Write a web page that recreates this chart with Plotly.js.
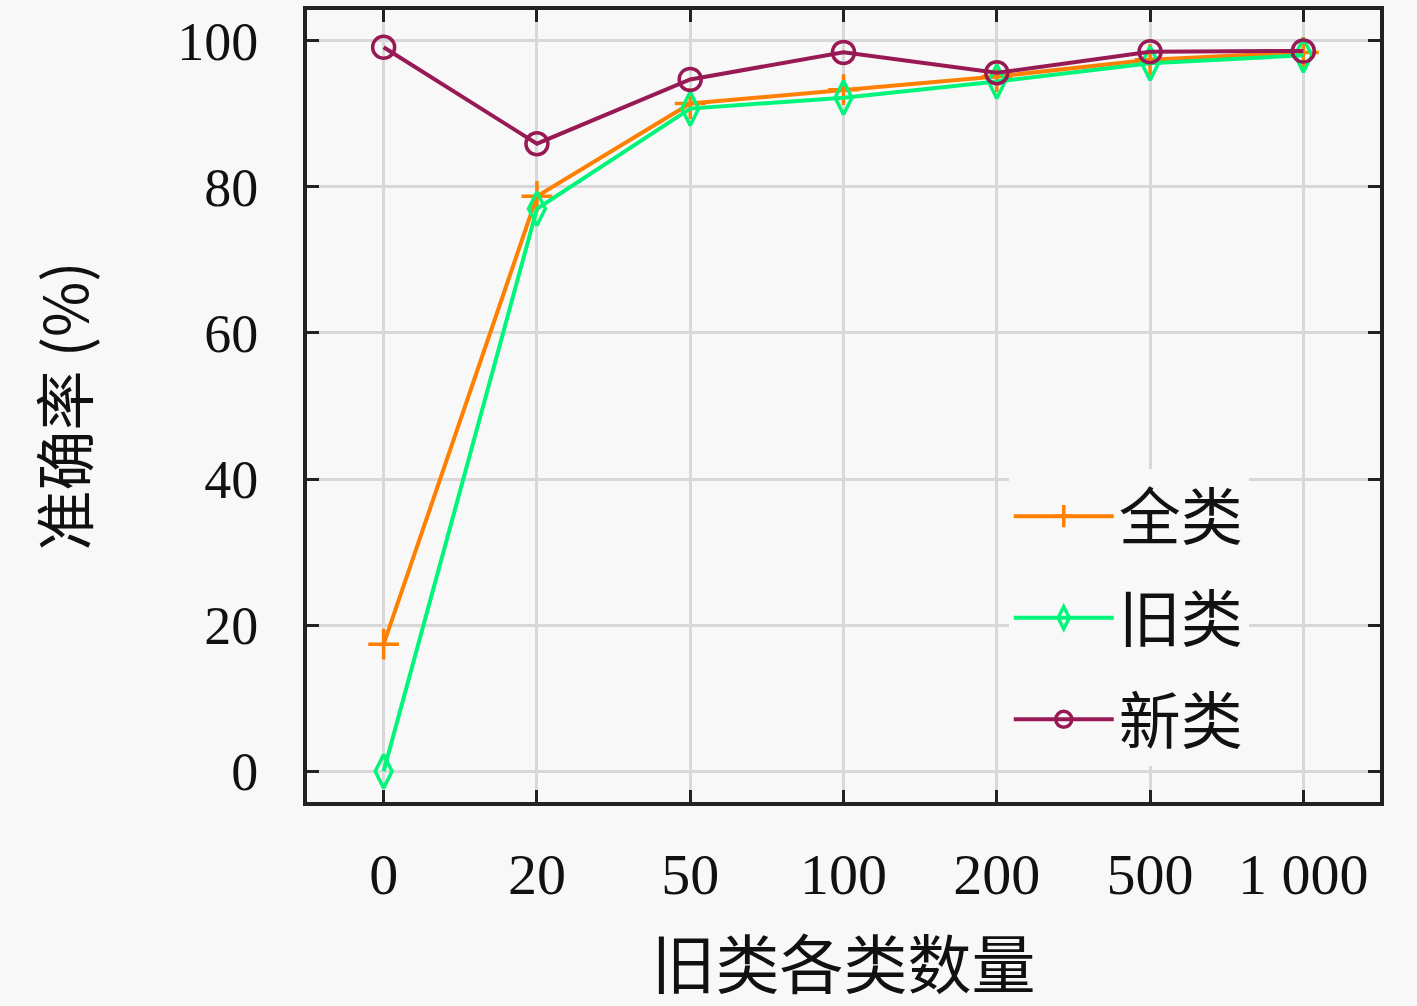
<!DOCTYPE html>
<html>
<head>
<meta charset="utf-8">
<script src="https://cdn.plot.ly/plotly-3.0.1.min.js"></script>
<style>
  body { margin: 0; background: #f8f8f8; }
  #chart { width: 1417px; height: 1006px; }
</style>
</head>
<body>
<div id="chart"></div>
<script>
// old-class sample counts (x categories)
let counts = ["0", "20", "50", "100", "200", "500", "1 000"];
let seriesNames = ["全类", "旧类", "新类"];

// accuracy (%)
let accAll = [17.4, 78.7, 91.4, 93.3, 95.1, 97.4, 98.4];
let accOld = [0.0, 77.0, 90.7, 92.2, 94.4, 96.9, 98.0];
let accNew = [99.1, 85.9, 94.7, 98.4, 95.6, 98.5, 98.6];

let yTicks = [0, 20, 40, 60, 80, 100];

let serif = "Liberation Serif, Noto Sans CJK SC, serif";
let cjk = "Noto Sans CJK SC, Liberation Serif, serif";

function makeTrace(name, values, color, symbol, size) {
    return {
        x: counts,
        y: values,
        name: name,
        legendgroup: name,
        type: "scatter",
        mode: "lines+markers",
        line: { color: color, width: 4 },
        marker: { symbol: symbol, size: size, color: color, line: { color: color, width: 3.5 } }
    };
}

let traces = [
    makeTrace(seriesNames[0], accAll, "#ff8000", "cross-thin-open", 22),
    makeTrace(seriesNames[1], accOld, "#00f57a", "diamond-tall-open", 24),
    makeTrace(seriesNames[2], accNew, "#981a55", "circle-open", 22)
];

let axisCommon = {
    showline: true,
    linecolor: "#222",
    linewidth: 4,
    mirror: "ticks",
    ticks: "inside",
    ticklen: 12,
    tickwidth: 3,
    tickcolor: "#222",
    showgrid: true,
    gridcolor: "#d8d8d8",
    gridwidth: 3,
    zeroline: false
};

let layout = {
    width: 1417,
    height: 1006,
    margin: { l: 307, r: 37, t: 10, b: 204 },
    paper_bgcolor: "#f8f8f8",
    plot_bgcolor: "#f8f8f8",
    font: { family: serif, color: "#111" },
    showlegend: true,
    legend: {
        x: 0.654, y: 0.42,
        xanchor: "left", yanchor: "top",
        bgcolor: "#f8f8f8",
        borderwidth: 0,
        traceorder: "grouped",
        tracegroupgap: 18,
        itemwidth: 100,
        font: { family: cjk, size: 62, color: "#111" }
    },
    xaxis: Object.assign({}, axisCommon, {
        type: "category",
        categoryorder: "array",
        categoryarray: counts,
        range: [-0.5, 6.5],
        tickfont: { family: serif, size: 58 },
        ticklabelstandoff: 18,
        title: { text: "旧类各类数量", font: { family: cjk, size: 64 }, standoff: 42 }
    }),
    yaxis: Object.assign({}, axisCommon, {
        range: [-4.2, 104.2],
        tickvals: yTicks,
        ticktext: yTicks.map(String),
        tickfont: { family: serif, size: 54 },
        ticklabelstandoff: 34,
        title: { text: "准确率 (%)", font: { family: cjk, size: 60 }, standoff: 70 }
    })
};

Plotly.newPlot("chart", traces, layout, { displayModeBar: false, staticPlot: true });
</script>
</body>
</html>
